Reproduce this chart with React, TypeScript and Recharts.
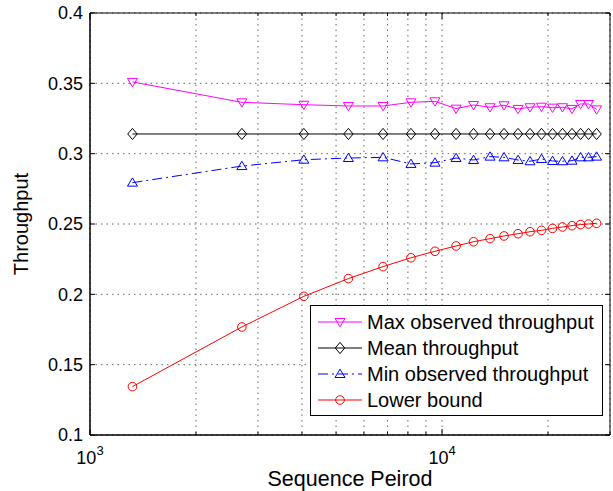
import React from 'react';
import { LineChart, Line, XAxis, YAxis, CartesianGrid, Legend, ReferenceArea } from 'recharts';

const periods = [1320, 2700, 4050, 5420, 6800, 8160, 9550, 10960, 12290, 13690, 15000, 16440, 17780, 19170, 20600, 21990, 23400, 24750, 26070, 27480];
const maxObserved = [0.351, 0.3365, 0.3348, 0.3339, 0.3339, 0.3365, 0.3372, 0.332, 0.3346, 0.333, 0.3344, 0.3318, 0.333, 0.3334, 0.3327, 0.333, 0.3318, 0.3353, 0.3353, 0.3315];
const meanThroughput = [0.314, 0.314, 0.314, 0.314, 0.314, 0.314, 0.314, 0.314, 0.314, 0.314, 0.314, 0.314, 0.314, 0.314, 0.314, 0.314, 0.314, 0.314, 0.314, 0.314];
const minObserved = [0.2794, 0.2912, 0.2957, 0.2969, 0.2974, 0.2927, 0.2936, 0.2969, 0.2955, 0.2979, 0.2974, 0.2955, 0.2946, 0.2962, 0.2948, 0.2946, 0.295, 0.2974, 0.2974, 0.2979];
const lowerBound = [0.1344, 0.1768, 0.1986, 0.2112, 0.2197, 0.226, 0.2306, 0.2344, 0.2374, 0.2396, 0.2415, 0.2431, 0.2445, 0.2455, 0.2469, 0.2479, 0.2488, 0.2496, 0.25, 0.2505];

const xTicks = [1000, 2000, 3000, 4000, 5000, 6000, 7000, 8000, 9000, 10000, 20000, 30000];
const xMajor = [1000, 10000];
const yTicks = [0.1, 0.15, 0.2, 0.25, 0.3, 0.35, 0.4];
const yTickLabels = ['0.1', '0.15', '0.2', '0.25', '0.3', '0.35', '0.4'];

const data = periods.map((p, i) => ({
  period: p,
  max: maxObserved[i],
  mean: meanThroughput[i],
  min: minObserved[i],
  lower: lowerBound[i],
}));

const FONT = '"Liberation Sans", Arial, Helvetica, sans-serif';
const PLOT_W = 520;
const PLOT_H = 422;

type MarkerKind = 'tdown' | 'diamond' | 'tup' | 'circle';

const series: { key: string; name: string; color: string; marker: MarkerKind; dash?: string }[] = [
  { key: 'max', name: 'Max observed throughput', color: '#ff00ff', marker: 'tdown' },
  { key: 'mean', name: 'Mean throughput', color: '#000000', marker: 'diamond' },
  { key: 'min', name: 'Min observed throughput', color: '#0000ff', marker: 'tup', dash: '10 4 2 4' },
  { key: 'lower', name: 'Lower bound', color: '#ff0000', marker: 'circle' },
];

function markerShape(kind: MarkerKind, cx: number, cy: number, color: string, key?: any) {
  const common = { fill: 'none', stroke: color, strokeWidth: 1 };
  if (kind === 'circle') return <circle key={key} cx={cx} cy={cy} r={4.3} {...common} />;
  if (kind === 'diamond')
    return <path key={key} d={`M${cx},${cy - 5.6}L${cx + 4.7},${cy}L${cx},${cy + 5.6}L${cx - 4.7},${cy}Z`} {...common} />;
  if (kind === 'tdown')
    return <path key={key} d={`M${cx - 5},${cy - 3.5}L${cx + 5},${cy - 3.5}L${cx},${cy + 4.8}Z`} {...common} />;
  return <path key={key} d={`M${cx - 5},${cy + 3.5}L${cx + 5},${cy + 3.5}L${cx},${cy - 4.8}Z`} {...common} />;
}

const XTick = (props: any) => {
  const { x, y, payload } = props;
  const v = payload.value;
  const major = xMajor.includes(v);
  const len = major ? 6 : 3;
  const exp = Math.round(Math.log10(v));
  return (
    <g>
      <line x1={x} x2={x} y1={y} y2={y - len} stroke="#000" />
      <line x1={x} x2={x} y1={y - PLOT_H} y2={y - PLOT_H + len} stroke="#000" />
      {major && (
        <text x={x} y={y + 29} textAnchor="middle" fontSize={18} fontFamily={FONT} fill="#000">
          10
          <tspan dy={-9.5} fontSize={13}>{exp}</tspan>
        </text>
      )}
    </g>
  );
};

const YTick = (props: any) => {
  const { x, y, payload } = props;
  const idx = yTicks.indexOf(payload.value);
  const label = idx >= 0 ? yTickLabels[idx] : String(payload.value);
  return (
    <g>
      <line x1={x} x2={x + 5} y1={y} y2={y} stroke="#000" />
      <line x1={x + PLOT_W - 5} x2={x + PLOT_W} y1={y} y2={y} stroke="#000" />
      <text x={x - 7} y={y} dy="0.36em" textAnchor="end" fontSize={18} fontFamily={FONT} fill="#000">
        {label}
      </text>
    </g>
  );
};

const LegendBox = () => (
  <div
    style={{
      boxSizing: 'border-box',
      width: 293,
      height: 111,
      border: '1px solid #000',
      background: '#fff',
      paddingTop: 3,
      fontFamily: FONT,
      fontSize: 20,
      color: '#000',
    }}
  >
    {series.map((s) => (
      <div key={s.key} style={{ display: 'flex', alignItems: 'center', height: 26 }}>
        <svg width={56} height={26} style={{ display: 'block', flex: 'none' }}>
          <line x1={7} x2={51} y1={13} y2={13} stroke={s.color} strokeWidth={1} strokeDasharray={s.dash} />
          {markerShape(s.marker, 29, 13, s.color)}
        </svg>
        <span style={{ whiteSpace: 'nowrap', lineHeight: '26px' }}>{s.name}</span>
      </div>
    ))}
  </div>
);

export default function App() {
  return (
    <div style={{ position: 'absolute', left: 0, top: 0 }}>
      <LineChart width={613} height={491} data={data} margin={{ top: 13, right: 3, left: 0, bottom: 0 }}>
        <CartesianGrid stroke="#666" strokeDasharray="1.5 4" strokeWidth={1} />
        <XAxis
          dataKey="period"
          type="number"
          scale="log"
          domain={[1000, 30000]}
          allowDataOverflow
          ticks={xTicks}
          interval={0}
          height={56}
          tickSize={0}
          tickMargin={0}
          tickLine={false}
          axisLine={{ stroke: '#000' }}
          tick={<XTick />}
        />
        <YAxis
          type="number"
          domain={[0.1, 0.4]}
          allowDataOverflow
          ticks={yTicks}
          interval={0}
          width={90}
          tickSize={0}
          tickMargin={0}
          tickLine={false}
          axisLine={{ stroke: '#000' }}
          tick={<YTick />}
        />
        <ReferenceArea x1={1000} x2={30000} y1={0.1} y2={0.4} fill="none" fillOpacity={0} stroke="#000" strokeWidth={1} />
        {series.map((s) => (
          <Line
            key={s.key}
            dataKey={s.key}
            name={s.name}
            type="linear"
            stroke={s.color}
            strokeWidth={1}
            strokeDasharray={s.dash}
            isAnimationActive={false}
            dot={(p: any) => markerShape(s.marker, p.cx, p.cy, s.color, `${s.key}-${p.index}`)}
            activeDot={false}
          />
        ))}
        <Legend
          layout="vertical"
          align="center"
          verticalAlign="middle"
          wrapperStyle={{ position: 'absolute', left: 310, top: 305, width: 293, height: 111 }}
          content={() => <LegendBox />}
        />
        <text x={28} y={224} transform="rotate(-90 28 224)" textAnchor="middle" fontSize={20} fontFamily={FONT} fill="#000">
          Throughput
        </text>
        <text x={350} y={486} textAnchor="middle" fontSize={21.5} fontFamily={FONT} fill="#000">
          Sequence Peirod
        </text>
      </LineChart>
    </div>
  );
}
